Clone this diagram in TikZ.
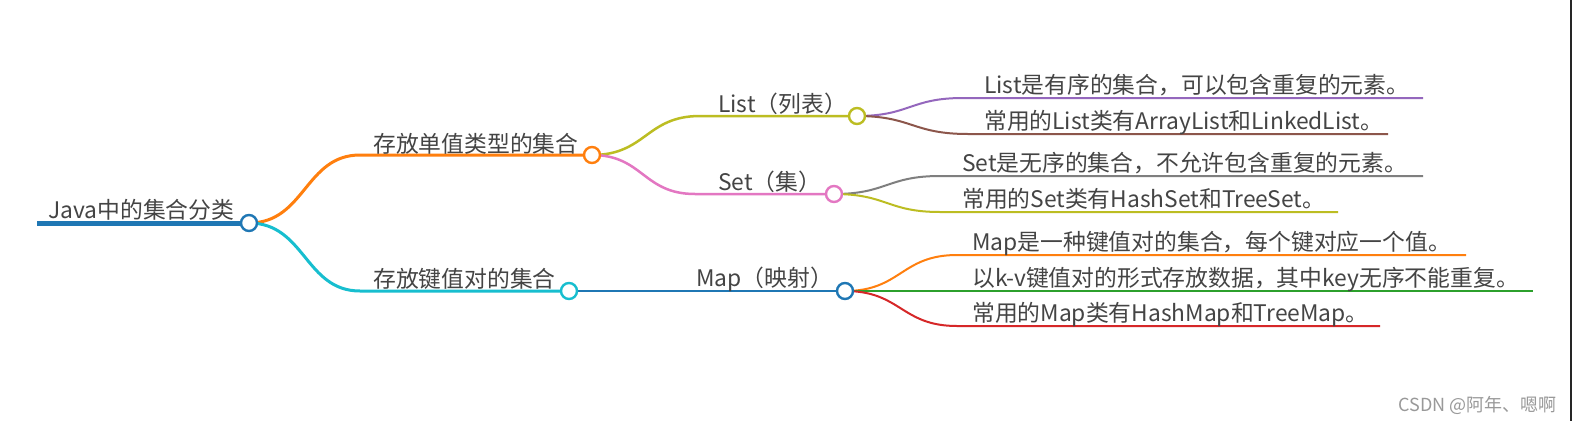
\documentclass[tikz,border=0pt]{standalone}
\usepackage{fontspec}
\setmainfont{Noto Sans CJK SC}
\usetikzlibrary{backgrounds}
\definecolor{txt}{HTML}{444444}
\definecolor{cblue}{HTML}{1F77B4}
\definecolor{corange}{HTML}{FF7F0E}
\definecolor{ccyan}{HTML}{17BECF}
\definecolor{colive}{HTML}{BCBD22}
\definecolor{cpink}{HTML}{E377C2}
\definecolor{cpurple}{HTML}{9467BD}
\definecolor{cbrown}{HTML}{8C564B}
\definecolor{cgray}{HTML}{7F7F7F}
\definecolor{cgreen}{HTML}{2CA02C}
\definecolor{cred}{HTML}{D62728}
\begin{document}
\begin{tikzpicture}[x=1pt,y=-1pt,
  lbl/.style={anchor=base west, inner sep=0pt, text=txt, font=\fontsize{22.8}{27}\selectfont},
  dot/.style={circle, draw=#1, fill=white, line width=2.4pt, minimum size=16pt, inner sep=0pt},
  lone/.style={line width=3pt, draw=#1},
  ltwo/.style={line width=2.5pt, draw=#1},
  lthree/.style={line width=2pt, draw=#1}]
\useasboundingbox (0,0) rectangle (1572,421);

% circles
\node[dot=cblue] (root) at (249,223) {};
\node[dot=corange] (c1) at (592,155) {};
\node[dot=ccyan] (c2) at (569,291) {};
\node[dot=colive] (list) at (857,116) {};
\node[dot=cpink] (set) at (834,194) {};
\node[dot=cblue] (map) at (845,291) {};

% free ends
\coordinate (rootstart) at (37,223);
\coordinate (e1) at (1423,98);
\coordinate (e2) at (1388,134);
\coordinate (e3) at (1423,176);
\coordinate (e4) at (1338,212);
\coordinate (e5) at (1466,255);
\coordinate (e6) at (1533,291);
\coordinate (e7) at (1380,326);

\begin{scope}[on background layer]
\fill[white] (0,0) rectangle (1572,421);
\draw[line width=5pt, cblue] (rootstart) -- (root.center);
\draw[lone=corange] (root.center) .. controls (305,223) and (305,155) .. (360,155) -- (c1.center);
\draw[lone=ccyan] (root.center) .. controls (305,223) and (305,291) .. (360,291) -- (c2.center);
\draw[ltwo=colive] (c1.center) .. controls (646,155) and (646,116) .. (700,116) -- (list.center);
\draw[ltwo=cpink] (c1.center) .. controls (643,155) and (643,194) .. (695,194) -- (set.center);
\draw[ltwo=cblue] (c2.center) -- (map.center);
\draw[lthree=cpurple] (list.center) .. controls (910,116) and (910,98) .. (963,98) -- (e1);
\draw[lthree=cbrown] (list.center) .. controls (912,116) and (912,134) .. (968,134) -- (e2);
\draw[lthree=cgray] (set.center) .. controls (887,194) and (887,176) .. (940,176) -- (e3);
\draw[lthree=colive] (set.center) .. controls (887,194) and (887,212) .. (940,212) -- (e4);
\draw[lthree=corange] (map.center) .. controls (901,291) and (901,255) .. (957,255) -- (e5);
\draw[lthree=cgreen] (map.center) -- (e6);
\draw[lthree=cred] (map.center) .. controls (901,291) and (901,326) .. (957,326) -- (e7);
\end{scope}

% labels
\node[lbl] (troot) at (48,218) {Java中的集合分类};
\node[lbl] (t1) at (373,152) {存放单值类型的集合};
\node[lbl] (t2) at (373,287) {存放键值对的集合};
\node[lbl] (tlist) at (718,112) {List（列表）};
\node[lbl] (tset) at (718,190) {Set（集）};
\node[lbl] (tmap) at (696,286) {Map（映射）};
\node[lbl] (l1) at (984,93.5) {List是有序的集合，可以包含重复的元素。};
\node[lbl] (l2) at (984,129.5) {常用的List类有ArrayList和LinkedList。};
\node[lbl] (l3) at (962,171.5) {Set是无序的集合，不允许包含重复的元素。};
\node[lbl] (l4) at (962,207.5) {常用的Set类有HashSet和TreeSet。};
\node[lbl] (l5) at (972,250.5) {Map是一种键值对的集合，每个键对应一个值。};
\node[lbl] (l6) at (972,286.5) {以k-v键值对的形式存放数据，其中key无序不能重复。};
\node[lbl] (l7) at (972,321.5) {常用的Map类有HashMap和TreeMap。};

% watermark and right border
\node[anchor=base east, inner sep=0pt, text=black!40, font=\fontsize{18}{21}\selectfont] (wm) at (1557,411) {CSDN @阿年、嗯啊};
\draw[line width=1.5pt, black!85] (1571,0) -- (1571,421);
\end{tikzpicture}
\end{document}
